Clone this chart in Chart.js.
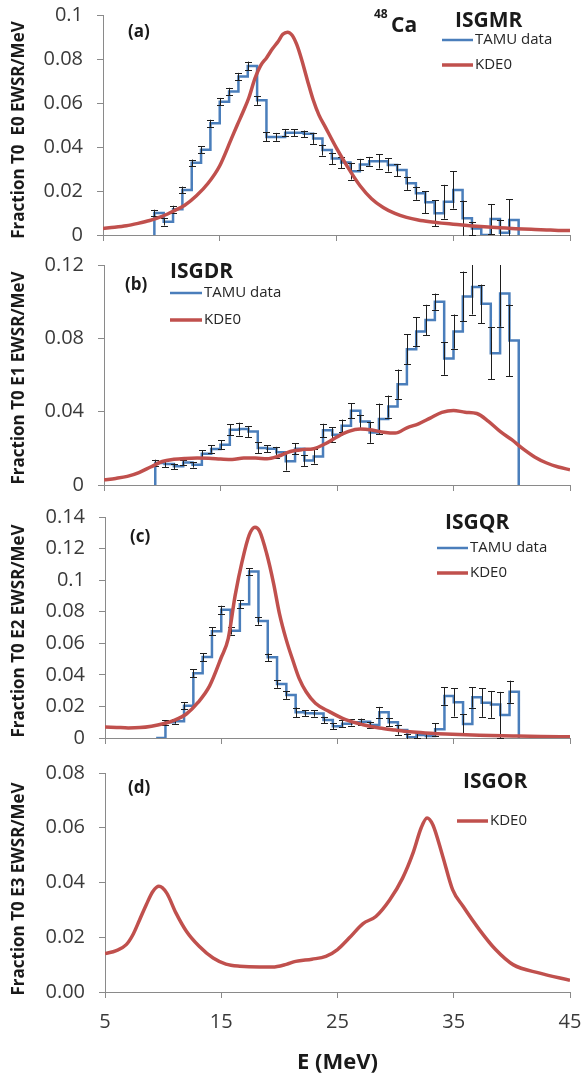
<!DOCTYPE html>
<html>
<head>
<meta charset="utf-8">
<script src="https://cdn.jsdelivr.net/npm/chart.js@4.4.1/dist/chart.umd.min.js"></script>
<style>
  body { margin: 0; background: #fff; }
  #wrap { position: relative; width: 582px; height: 1076px; }
  canvas { position: absolute; left: 0; }
</style>
</head>
<body>
<div id="wrap">
  <canvas id="cA" width="582" height="250" style="top:0"></canvas>
  <canvas id="cB" width="582" height="250" style="top:250px"></canvas>
  <canvas id="cC" width="582" height="250" style="top:500px"></canvas>
  <canvas id="cD" width="582" height="326" style="top:750px"></canvas>
</div>
<script>
// ---------------- data ----------------
var xTicks = [5, 15, 25, 35, 45];

// TAMU bins (left edges + final right edge), MeV
var binEdges = [9.4, 10.2, 11.0, 11.8, 12.6, 13.4, 14.2, 15.0, 15.8, 16.6, 17.4, 18.2, 19.0, 19.8,
  20.6, 21.4, 22.2, 23.0, 23.8, 24.6, 25.4, 26.2, 27.0, 27.8, 28.6, 29.4, 30.2, 31.0, 31.8, 32.6,
  33.4, 34.2, 35.0, 35.8, 36.6, 37.4, 38.2, 39.0, 39.8, 40.6];

// (a) ISGMR
var tamuE0 = [0.010, 0.006, 0.0117, 0.0205, 0.0328, 0.0388, 0.0508, 0.0606, 0.0652, 0.072,
  0.0768, 0.0612, 0.0446, 0.0446, 0.0465, 0.0465, 0.046, 0.0439, 0.0386, 0.0348,
  0.0329, 0.029, 0.0321, 0.0335, 0.0335, 0.0318, 0.0295, 0.0235, 0.019, 0.0149,
  0.0099, 0.0151, 0.0205, 0.0076, 0.003, 0.0, 0.0073, 0.001, 0.0068];
var errE0 = [0.0015, 0.0017, 0.0016, 0.0015, 0.0015, 0.0015, 0.0016, 0.0017, 0.0017, 0.0017,
  0.002, 0.002, 0.002, 0.0018, 0.0017, 0.0016, 0.0015, 0.0025, 0.0025, 0.0025,
  0.0025, 0.0038, 0.0025, 0.002, 0.0033, 0.003, 0.0027, 0.003, 0.003, 0.005,
  0.006, 0.0077, 0.0085, 0.008, 0.003, 0, 0.0068, 0.006, 0.0094];
var kdeE0x = [5, 6, 7, 8, 9, 10, 11, 12, 13, 14, 15, 16, 16.5, 17, 17.5, 18, 18.5, 19, 19.5, 20,
  20.4, 20.8, 21.2, 21.6, 22, 22.5, 23, 23.5, 24, 25, 26, 27, 28, 29, 30, 31, 32, 33, 34, 35,
  36, 37, 38, 39, 40, 41, 42, 43, 44, 45];
var kdeE0y = [0.003, 0.0035, 0.0042, 0.0053, 0.0066, 0.0083, 0.0108, 0.0135, 0.0178, 0.0235,
  0.0315, 0.0438, 0.050, 0.056, 0.0625, 0.071, 0.077, 0.0805, 0.0845, 0.088,
  0.0912, 0.0922, 0.0908, 0.0865, 0.080, 0.0705, 0.0615, 0.0545, 0.0495, 0.0395,
  0.0305, 0.0225, 0.0165, 0.0125, 0.0098, 0.008, 0.0068, 0.006, 0.0054, 0.0049,
  0.0044, 0.004, 0.0036, 0.0033, 0.003, 0.0027, 0.0025, 0.0023, 0.0021, 0.002];

// (b) ISGDR
var tamuE1 = [0.012, 0.0115, 0.0102, 0.0123, 0.011, 0.0171, 0.0196, 0.022, 0.0301, 0.0305,
  0.0292, 0.0202, 0.0198, 0.0178, 0.0129, 0.0198, 0.0134, 0.0156, 0.0298, 0.0274,
  0.0323, 0.0405, 0.0347, 0.0287, 0.036, 0.0428, 0.055, 0.074, 0.0837, 0.090,
  0.100, 0.069, 0.0837, 0.1028, 0.108, 0.0988, 0.0719, 0.1044, 0.0788];
var errE1 = [0.0018, 0.0018, 0.0015, 0.0015, 0.0015, 0.0018, 0.002, 0.0025, 0.003, 0.0035,
  0.003, 0.003, 0.002, 0.003, 0.005, 0.003, 0.003, 0.004, 0.0036, 0.004,
  0.0034, 0.004, 0.0036, 0.0057, 0.0084, 0.006, 0.008, 0.0082, 0.0078, 0.0083,
  0.0044, 0.0089, 0.0093, 0.0136, 0.015, 0.0105, 0.0141, 0.018, 0.0196];
var kdeE1x = [5, 6, 7, 8, 9, 10, 11, 12, 13, 14, 15, 16, 17, 18, 19, 20, 21, 22, 23, 24, 25,
  26, 27, 28, 29, 30, 31, 32, 33, 34, 35, 36, 37, 38, 39, 40, 41, 42, 43, 44, 45];
var kdeE1y = [0.0028, 0.0036, 0.0047, 0.0068, 0.0098, 0.0128, 0.014, 0.0145, 0.0147, 0.0146,
  0.0142, 0.0139, 0.0147, 0.0147, 0.0143, 0.0158, 0.0183, 0.0193, 0.0198, 0.0225,
  0.0262, 0.0292, 0.0305, 0.030, 0.0288, 0.0283, 0.0312, 0.0334, 0.0365, 0.0396,
  0.0407, 0.0397, 0.039, 0.0347, 0.0292, 0.0247, 0.0196, 0.0152, 0.012, 0.0098, 0.0083];

// (c) ISGQR
var tamuE2 = [0, 0.0099, 0.0106, 0.0205, 0.041, 0.0513, 0.0676, 0.0813, 0.068, 0.0847,
  0.1054, 0.0741, 0.0511, 0.0342, 0.0272, 0.0163, 0.0157, 0.0155, 0.0114, 0.0074,
  0.0091, 0.0099, 0.0103, 0.0082, 0.0163, 0.010, 0.0051, 0.0004, 0.0019, 0.0013,
  0.0055, 0.0266, 0.0226, 0.0089, 0.0258, 0.0224, 0.0213, 0.0146, 0.0293];
var errE2 = [0, 0.0015, 0.0015, 0.0022, 0.0025, 0.0025, 0.0025, 0.0025, 0.0025, 0.0025,
  0.0023, 0.0023, 0.0024, 0.0024, 0.0024, 0.003, 0.002, 0.002, 0.002, 0.002,
  0.002, 0.002, 0.002, 0.002, 0.0034, 0.0027, 0.003, 0.002, 0.002, 0.002,
  0.004, 0.0055, 0.009, 0.006, 0.0065, 0.009, 0.0085, 0.0146, 0.007];
var kdeE2x = [5, 6, 7, 8, 9, 10, 11, 12, 13, 14, 15, 15.6, 16.2, 16.8, 17.4, 17.9, 18.3, 18.9,
  19.5, 20, 20.6, 21.2, 21.7, 22.3, 23.1, 24.3, 25.7, 27.2, 28.6, 30, 31.5, 33, 34.3, 37.2,
  40.1, 42.5, 45];
var kdeE2y = [0.007, 0.0067, 0.0064, 0.0066, 0.0075, 0.009, 0.0113, 0.0152, 0.0225, 0.033,
  0.051, 0.063, 0.0905, 0.112, 0.1285, 0.1335, 0.131, 0.117, 0.098, 0.079, 0.062, 0.0483,
  0.0378, 0.0293, 0.022, 0.0167, 0.0116, 0.0084, 0.0063, 0.005, 0.0038, 0.003, 0.0025,
  0.0017, 0.0013, 0.001, 0.0008];

// (d) ISGOR
var kdeE3x = [5, 5.97, 6.83, 7.4, 7.98, 8.55, 9.13, 9.64, 10.3, 11.1, 12, 13.1, 14.3, 15.4, 16.6,
  18.3, 19.4, 20.6, 21.4, 22.8, 24, 25, 26, 27.2, 28.3, 29.5, 30.6, 31.5, 32.2, 32.7, 33.2,
  34.05, 34.9, 35.8, 37.2, 38.6, 40.1, 42.4, 45];
var kdeE3y = [0.014, 0.0151, 0.0173, 0.0209, 0.0264, 0.0319, 0.0368, 0.0386, 0.0362, 0.0289,
  0.0222, 0.0167, 0.0124, 0.0102, 0.0094, 0.0091, 0.0091, 0.0101, 0.0112, 0.012, 0.013,
  0.0155, 0.0197, 0.025, 0.0276, 0.0337, 0.0416, 0.0508, 0.060, 0.0636, 0.0611, 0.0496,
  0.0374, 0.0313, 0.0228, 0.0155, 0.010, 0.0069, 0.0043];

// ---------------- styling ----------------
var BLUE = '#4a7ebb';
var RED = '#c0504d';
var AXIS = '#8a8a8a';
var TICKTXT = '#3a3a3a';
Chart.defaults.font.family = "'Open Sans', 'DejaVu Sans', sans-serif";

function stepPoints(edges, vals) {
  var pts = [{x: edges[0], y: 0}];
  vals.forEach(function (v, i) { pts.push({x: edges[i], y: v}); });
  pts.push({x: edges[edges.length - 1], y: 0});
  return pts;
}

function curvePoints(xs, ys) {
  return xs.map(function (x, i) { return {x: x, y: ys[i]}; });
}

// error bars drawn at each bin's left edge, right after the TAMU line
var errorBars = {
  id: 'errorBars',
  afterDatasetDraw: function (chart, args, opts) {
    if (!opts.errors || args.index !== 0) return;
    var ctx = chart.ctx, a = chart.chartArea;
    var xs = chart.scales.x, ys = chart.scales.y;
    ctx.save();
    ctx.beginPath();
    ctx.rect(a.left, a.top, a.right - a.left, a.bottom - a.top + 1);
    ctx.clip();
    ctx.strokeStyle = '#1e1e1e';
    ctx.lineWidth = 1;
    opts.errors.forEach(function (e, i) {
      if (!e) return;
      var px = Math.round(xs.getPixelForValue(opts.edges[i])) + 0.5;
      var y1 = ys.getPixelForValue(opts.values[i] - e);
      var y2 = ys.getPixelForValue(opts.values[i] + e);
      ctx.beginPath();
      ctx.moveTo(px, y1); ctx.lineTo(px, y2);
      ctx.moveTo(px - 3.5, Math.round(y1) + 0.5); ctx.lineTo(px + 3.5, Math.round(y1) + 0.5);
      ctx.moveTo(px - 3.5, Math.round(y2) + 0.5); ctx.lineTo(px + 3.5, Math.round(y2) + 0.5);
      ctx.stroke();
    });
    ctx.restore();
  }
};

// panel labels, titles, legends
var notes = {
  id: 'notes',
  afterDraw: function (chart, args, opts) {
    var ctx = chart.ctx;
    ctx.save();
    (opts.lines || []).forEach(function (l) {
      ctx.strokeStyle = l.color;
      ctx.lineWidth = l.width;
      ctx.beginPath();
      ctx.moveTo(l.x1, l.y); ctx.lineTo(l.x2, l.y);
      ctx.stroke();
    });
    (opts.texts || []).forEach(function (t) {
      ctx.save();
      ctx.font = t.font;
      ctx.fillStyle = t.color || '#1a1a1a';
      ctx.textBaseline = 'middle';
      ctx.textAlign = t.align || 'left';
      ctx.translate(t.x, t.y);
      if (t.rotate) ctx.rotate(t.rotate);
      ctx.fillText(t.text, 0, 0);
      ctx.restore();
    });
    ctx.restore();
  }
};

function legendFor(x1, x2, yBlue, yRed, hasBlue) {
  var lines = [], texts = [];
  if (hasBlue) {
    lines.push({x1: x1, x2: x2, y: yBlue, color: BLUE, width: 2.5});
    texts.push({text: 'TAMU data', x: x2 + 2, y: yBlue, font: '15px "Open Sans"', color: '#262626'});
  }
  lines.push({x1: x1, x2: x2, y: yRed, color: RED, width: 3.5});
  texts.push({text: 'KDE0', x: x2 + 2, y: yRed, font: '15px "Open Sans"', color: '#262626'});
  return {lines: lines, texts: texts};
}

function makePanel(id, p) {
  var datasets = [];
  if (p.tamu) {
    datasets.push({
      label: 'TAMU data', data: stepPoints(binEdges, p.tamu), stepped: 'before',
      borderColor: BLUE, borderWidth: 2.5, pointRadius: 0, fill: false, order: 2
    });
  }
  datasets.push({
    label: 'KDE0', data: curvePoints(p.kx, p.ky), borderColor: RED, borderWidth: 3.5,
    pointRadius: 0, fill: false, cubicInterpolationMode: 'monotone', order: 1
  });

  var leg = legendFor(p.leg[0], p.leg[1], p.leg[2], p.leg[3], !!p.tamu);
  var texts = leg.texts.concat(p.texts);
  texts.push({text: p.yTitle, x: 19, y: p.yTitleY, font: 'bold 17px "Open Sans"',
    rotate: -Math.PI / 2, align: 'center'});

  new Chart(document.getElementById(id), {
    type: 'line',
    data: {datasets: datasets},
    options: {
      responsive: false,
      animation: false,
      events: [],
      layout: {padding: {top: p.top, right: 12, left: 0, bottom: 0}},
      plugins: {
        legend: {display: false},
        tooltip: {enabled: false},
        errorBars: p.tamu ? {edges: binEdges, values: p.tamu, errors: p.err} : {},
        notes: {lines: leg.lines, texts: texts}
      },
      scales: {
        x: {
          type: 'linear', min: 5, max: 45,
          afterBuildTicks: function (s) { s.ticks = xTicks.map(function (v) { return {value: v}; }); },
          afterFit: function (s) { s.height = p.xh; s.paddingLeft = 0; s.paddingRight = 0; },
          grid: {drawOnChartArea: false, drawTicks: true, tickLength: 6, color: AXIS},
          border: {color: AXIS, width: 1},
          ticks: {display: !!p.showX, color: TICKTXT, font: {size: 20}, padding: 12, maxRotation: 0},
          title: {
            display: !!p.showX, text: 'E (MeV)', color: '#1a1a1a',
            font: {size: 22, weight: 'bold'}, padding: {top: 0, bottom: 0}
          }
        },
        y: {
          min: 0, max: p.ymax,
          afterFit: function (s) { s.width = p.left; s.paddingTop = 0; s.paddingBottom = 0; },
          grid: {drawOnChartArea: false, drawTicks: true, tickLength: 6, color: AXIS},
          border: {color: AXIS, width: 1},
          ticks: {
            stepSize: p.ystep, color: TICKTXT, font: {size: 20}, padding: 14,
            callback: p.yfmt || undefined
          }
        }
      }
    },
    plugins: [errorBars, notes]
  });
}

// (a)
makePanel('cA', {
  tamu: tamuE0, err: errE0, kx: kdeE0x, ky: kdeE0y,
  ymax: 0.1, ystep: 0.02, top: 15, left: 103, xh: 15,
  yTitle: 'Fraction T0  E0 EWSR/MeV', yTitleY: 130,
  leg: [442, 473, 40, 65],
  texts: [
    {text: '(a)', x: 128, y: 32, font: 'bold 17px "Open Sans"'},
    {text: '48', x: 374, y: 15, font: 'bold 12px "Open Sans"'},
    {text: 'Ca', x: 391, y: 26, font: 'bold 21px "Open Sans"'},
    {text: 'ISGMR', x: 455, y: 21, font: 'bold 21px "Open Sans"'}
  ]
});

// (b)
makePanel('cB', {
  tamu: tamuE1, err: errE1, kx: kdeE1x, ky: kdeE1y,
  ymax: 0.12, ystep: 0.04, top: 15, left: 104, xh: 15,
  yTitle: 'Fraction T0 E1 EWSR/MeV', yTitleY: 128,
  leg: [170, 202, 43, 70],
  texts: [
    {text: '(b)', x: 125, y: 35, font: 'bold 17px "Open Sans"'},
    {text: 'ISGDR', x: 170, y: 22, font: 'bold 21px "Open Sans"'}
  ]
});

// (c)
makePanel('cC', {
  tamu: tamuE2, err: errE2, kx: kdeE2x, ky: kdeE2y,
  ymax: 0.14, ystep: 0.02, top: 17, left: 105, xh: 12,
  yTitle: 'Fraction T0 E2 EWSR/MeV', yTitleY: 131,
  leg: [437, 468, 48, 73],
  texts: [
    {text: '(c)', x: 130, y: 37, font: 'bold 17px "Open Sans"'},
    {text: 'ISGQR', x: 445, y: 23, font: 'bold 21px "Open Sans"'}
  ]
});

// (d)
makePanel('cD', {
  kx: kdeE3x, ky: kdeE3y,
  ymax: 0.08, ystep: 0.02, top: 23, left: 105, xh: 84, showX: true,
  yfmt: function (v) { return v.toFixed(2); },
  yTitle: 'Fraction T0 E3 EWSR/MeV', yTitleY: 139,
  leg: [457, 488, 71, 71],
  texts: [
    {text: '(d)', x: 128, y: 38, font: 'bold 17px "Open Sans"'},
    {text: 'ISGOR', x: 463, y: 32, font: 'bold 21px "Open Sans"'}
  ]
});
</script>
</body>
</html>
